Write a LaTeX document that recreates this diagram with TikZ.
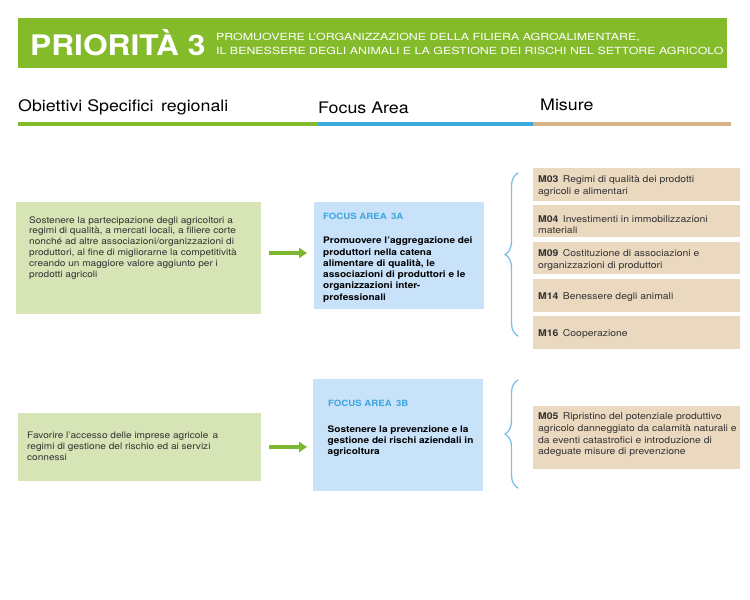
\documentclass[tikz,border=0pt]{standalone}
\usepackage{fontspec}
\setmainfont{TeX Gyre Heros}[FakeStretch=1.12]
\newfontfamily\subfont{TeX Gyre Heros}[FakeStretch=1.265]
\usetikzlibrary{decorations.pathreplacing,arrows.meta}
\definecolor{bannergreen}{HTML}{84BB2B}
\definecolor{lineblue}{HTML}{3BAADC}
\definecolor{linetan}{HTML}{D5B284}
\definecolor{boxgreen}{HTML}{D6E4B6}
\definecolor{boxblue}{HTML}{C8E2FA}
\definecolor{boxtan}{HTML}{EAD8BF}
\definecolor{bracecol}{HTML}{7EC0E4}
\definecolor{fatitle}{HTML}{3DA5DD}
\definecolor{arrowgreen}{HTML}{7DB72F}
\definecolor{bodytext}{HTML}{333333}
\begin{document}
\begin{tikzpicture}[x=1pt,y=-1pt,
  panel/.style={anchor=north west, inner sep=0pt, outer sep=0pt, draw=none},
  bodytxt/.style={anchor=north west, inner sep=0pt, align=left, text=bodytext, font=\fontsize{9}{10.9}\selectfont},
  boldtxt/.style={anchor=north west, inner sep=0pt, align=left, text=black, font=\fontsize{9}{11.3}\selectfont\bfseries},
  fatxt/.style={anchor=north west, inner sep=0pt, text=fatitle, font=\fontsize{8.6}{10.3}\selectfont\bfseries},
  mbox/.style={anchor=north west, inner sep=0pt, outer sep=0pt, fill=boxtan, minimum width=207pt},
  mtxt/.style={anchor=west, inner sep=0pt, align=left, text=bodytext, font=\fontsize{9.3}{11.7}\selectfont},
  header/.style={anchor=base west, inner sep=0pt, text=black, font=\fontsize{15.9}{18}\selectfont},
  subtxt/.style={anchor=base west, inner sep=0pt, text=white, font=\subfont\fontsize{9.8}{12}\selectfont},
  garrow/.style={draw=arrowgreen, line width=3.5pt, -{Triangle[length=8pt,width=10pt]}},
  bracestyle/.style={draw=bracecol, line width=1.3pt, line cap=round, decorate, decoration={brace, amplitude=13pt}}
]
\useasboundingbox (0,0) rectangle (750,600);
\fill[white] (0,0) rectangle (750,600);

% banner
\node[panel, fill=bannergreen, minimum width=709pt, minimum height=50pt] (banner) at (18,18) {};
\node[anchor=base west, inner sep=0pt, text=white, font=\fontsize{28.3}{30}\selectfont\bfseries] (title) at (30,55) {PRIORITÀ 3};
\node[subtxt] (sub1) at (216,40.5) {PROMUOVERE L’ORGANIZZAZIONE DELLA FILIERA AGROALIMENTARE,};
\node[subtxt] (sub2) at (216,54.6) {IL BENESSERE DEGLI ANIMALI E LA GESTIONE DEI RISCHI NEL SETTORE AGRICOLO};

% column headers
\node[header] (h1) at (18,111.5) {Obiettivi Specifici\, regionali};
\node[header] (h2) at (318,113.5) {Focus Area};
\node[header] (h3) at (540,110) {Misure};
\fill[bannergreen] (18,122.2) rectangle (318,126);
\fill[lineblue] (318,122.2) rectangle (533,126);
\fill[linetan] (533,122.2) rectangle (731,126);

% row 1
\node[panel, fill=boxgreen, minimum width=245pt, minimum height=112pt] (g1) at (16,202) {};
\node[bodytxt] (g1t) at (29,216.1) {Sostenere la partecipazione degli agricoltori a\\regimi di qualità, a mercati locali, a filiere corte\\nonché ad altre associazioni/organizzazioni di\\produttori, al fine di migliorarne la competitività\\creando un maggiore valore aggiunto per i\\prodotti agricoli};

\node[panel, fill=boxblue, minimum width=170pt, minimum height=107pt] (fa) at (314,202) {};
\node[fatxt] (fat) at (323,213) {FOCUS AREA\enspace 3A};
\node[boldtxt] (fab) at (323,236.8) {Promuovere l’aggregazione dei\\produttori nella catena\\alimentare di qualità, le\\associazioni di produttori e le\\organizzazioni inter-\\professionali};

\draw[garrow] ([xshift=8pt]g1.east |- 0,253) -- ([xshift=-7pt]fa.west |- 0,253);

\coordinate (b1s) at (518,336);
\coordinate (b1e) at (518,173);
\draw[bracestyle] (b1s) -- (b1e);

\node[mbox, minimum height=32.5pt] (m03) at (533,168) {};
\node[mtxt] at ([xshift=5pt,yshift=-2pt]m03.west) {\textbf{M03}\, Regimi di qualità dei prodotti\\agricoli e alimentari};
\node[mbox, minimum height=32.5pt] (m04) at (533,204.5) {};
\node[mtxt] at ([xshift=5pt,yshift=-4pt]m04.west) {\textbf{M04}\, Investimenti in immobilizzazioni\\materiali};
\node[mbox, minimum height=32.5pt] (m09) at (533,241.5) {};
\node[mtxt] at ([xshift=5pt,yshift=-2pt]m09.west) {\textbf{M09}\, Costituzione di associazioni e\\organizzazioni di produttori};
\node[mbox, minimum height=33pt] (m14) at (533,279) {};
\node[mtxt] at ([xshift=5pt,yshift=-2pt]m14.west) {\textbf{M14}\, Benessere degli animali};
\node[mbox, minimum height=33pt] (m16) at (533,316) {};
\node[mtxt] at ([xshift=5pt,yshift=-2pt]m16.west) {\textbf{M16}\, Cooperazione};

% row 2
\node[panel, fill=boxgreen, minimum width=243pt, minimum height=68pt] (g2) at (18,413) {};
\node[bodytxt] (g2t) at (27,432.1) {Favorire l'accesso delle imprese agricole\, a\\regimi di gestione del rischio ed ai servizi\\connessi};

\node[panel, fill=boxblue, minimum width=170pt, minimum height=112pt] (fb) at (313,379) {};
\node[fatxt] (fbt) at (328,399.6) {FOCUS AREA\enspace 3B};
\node[boldtxt] (fbb) at (327.5,425.4) {Sostenere la prevenzione e la\\gestione dei rischi aziendali in\\agricoltura};

\draw[garrow] ([xshift=8pt]g2.east |- 0,447) -- ([xshift=-6pt]fb.west |- 0,447);

\coordinate (b2s) at (518,488);
\coordinate (b2e) at (518,380);
\draw[bracestyle] (b2s) -- (b2e);

\node[mbox, minimum height=63pt] (m05) at (533,406) {};
\node[mtxt] at ([xshift=5pt,yshift=2.5pt]m05.west) {\textbf{M05}\, Ripristino del potenziale produttivo\\agricolo danneggiato da calamità naturali e\\da eventi catastrofici e introduzione di\\adeguate misure di prevenzione};
\end{tikzpicture}
\end{document}
